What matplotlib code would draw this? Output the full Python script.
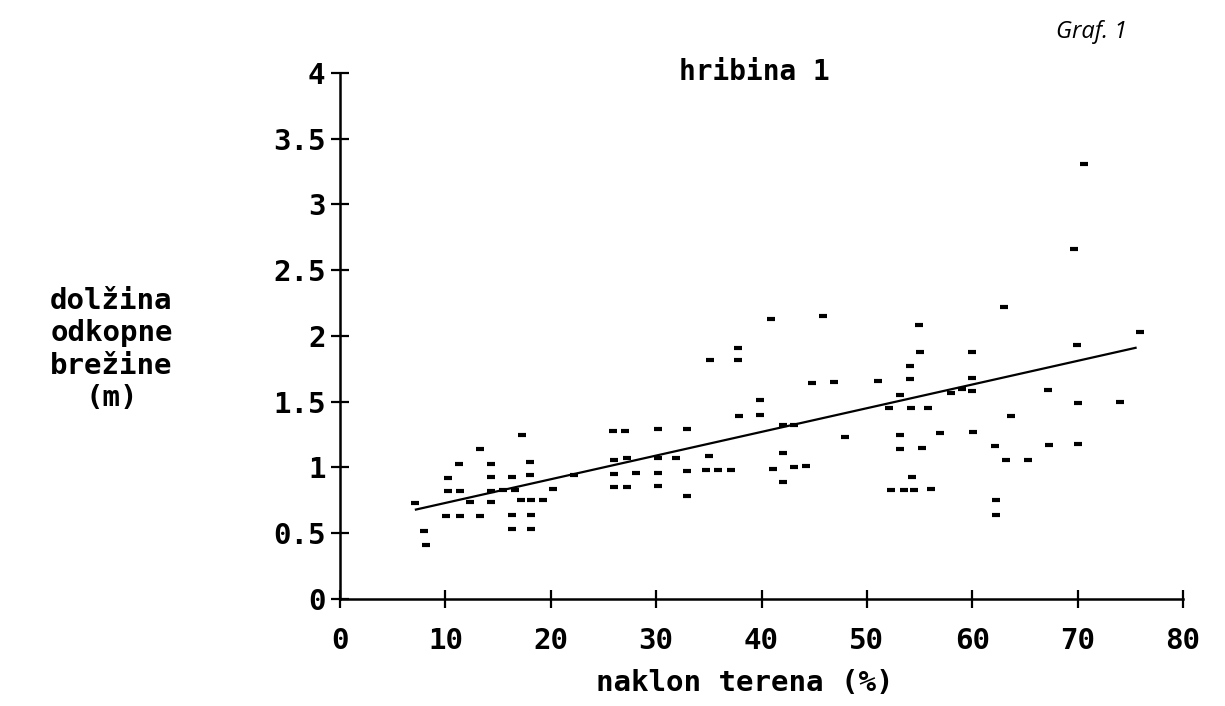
import matplotlib
matplotlib.use("Agg")
import matplotlib.pyplot as plt

# slope of terrain (%) and length of cut slope (m)
slope_pct = [
    7.1, 8.0, 8.2, 10.2, 10.2, 10.1, 11.3, 11.4, 11.4, 12.3, 13.3, 13.3,
    14.3, 14.3, 14.3, 14.3, 15.5, 16.3, 16.3, 16.3, 16.6, 17.3, 17.2, 18.0,
    18.0, 18.1, 18.1, 18.1, 19.3, 20.2, 22.2,
    25.9, 27.0, 30.2, 32.9, 26.0, 27.2, 30.2, 31.9, 35.0,
    26.0, 28.1, 30.2, 32.9, 34.7, 35.9, 37.1, 26.0, 27.2, 30.2, 32.9,
    35.1, 37.8, 37.8, 40.9, 37.9, 39.9, 39.9, 41.1,
    42.0, 43.1, 42.0, 43.1, 44.2, 42.0, 44.8, 45.8, 46.9, 47.9,
    51.1, 52.1, 52.3, 53.1, 53.1, 53.1, 53.5, 54.1, 54.1, 54.2, 54.3, 54.5,
    54.9, 55.0, 55.2, 55.8, 56.1, 56.9, 58.0, 59.0,
    60.0, 60.0, 60.0, 60.1, 62.2, 62.3, 62.3,
    63.0, 63.2, 63.7, 65.3, 67.2, 67.3, 69.7, 69.9, 70.0, 70.0, 70.6,
    74.0, 75.9,
]
length_m = [
    0.73, 0.52, 0.41, 0.92, 0.82, 0.63, 1.03, 0.82, 0.63, 0.74, 1.14, 0.63,
    1.03, 0.93, 0.82, 0.74, 0.83, 0.93, 0.64, 0.53, 0.83, 1.25, 0.75, 1.04,
    0.94, 0.75, 0.64, 0.53, 0.75, 0.84, 0.94,
    1.28, 1.28, 1.29, 1.29, 1.06, 1.07, 1.07, 1.07, 1.09,
    0.95, 0.96, 0.96, 0.97, 0.98, 0.98, 0.98, 0.85, 0.85, 0.86, 0.78,
    1.82, 1.91, 1.82, 2.13, 1.39, 1.51, 1.40, 0.99,
    1.32, 1.32, 1.11, 1.00, 1.01, 0.89, 1.64, 2.15, 1.65, 1.23,
    1.66, 1.45, 0.83, 1.55, 1.25, 1.14, 0.83, 1.77, 1.67, 1.45, 0.93, 0.83,
    2.08, 1.88, 1.15, 1.45, 0.84, 1.26, 1.57, 1.60,
    1.88, 1.68, 1.58, 1.27, 1.16, 0.75, 0.64,
    2.22, 1.06, 1.39, 1.06, 1.59, 1.17, 2.66, 1.93, 1.49, 1.18, 3.31,
    1.50, 2.03,
]

# regression line as drawn on the graph (end points)
fit_x = [7.2, 75.5]
fit_y = [0.68, 1.91]

x_ticks = [0, 10, 20, 30, 40, 50, 60, 70, 80]
y_ticks = [0, 0.5, 1, 1.5, 2, 2.5, 3, 3.5, 4]
y_tick_labels = ["0", "0.5", "1", "1.5", "2", "2.5", "3", "3.5", "4"]

mono = "DejaVu Sans Mono"

fig = plt.figure(figsize=(12.25, 7.06), dpi=100)
ax = fig.add_axes([0.2776, 0.1516, 0.6881, 0.745])

ax.plot(slope_pct, length_m, linestyle="none", marker="_", markersize=6,
        markeredgewidth=3, color="black")
ax.plot(fit_x, fit_y, color="black", linewidth=1.6)

ax.set_xlim(0, 80)
ax.set_ylim(0, 4)
ax.set_xticks(x_ticks)
ax.set_yticks(y_ticks)
ax.set_yticklabels(y_tick_labels)

for side in ["top", "right"]:
    ax.spines[side].set_visible(False)
for side in ["left", "bottom"]:
    ax.spines[side].set_linewidth(1.8)

ax.tick_params(axis="both", direction="inout", length=13, width=1.6,
               labelsize=21)
ax.tick_params(axis="x", pad=14)
ax.tick_params(axis="y", pad=4)
for lab in ax.get_xticklabels() + ax.get_yticklabels():
    lab.set_fontfamily(mono)
    lab.set_fontweight("bold")

fig.text(0.616, 0.898, "hribina 1", ha="center", va="center",
         fontsize=20, fontfamily=mono, fontweight="bold")
fig.text(0.891, 0.955, "Graf. 1", ha="center", va="center",
         fontsize=17, fontstyle="italic", fontfamily="Open Sans")
fig.text(0.608, 0.032, "naklon terena (%)", ha="center", va="center",
         fontsize=21, fontfamily=mono, fontweight="bold")
fig.text(0.091, 0.505, "dolžina\nodkopne\nbrežine\n(m)", ha="center",
         va="center", fontsize=21, fontfamily=mono, fontweight="bold",
         linespacing=1.2)

fig.savefig("out.png", dpi=100, facecolor="white")
